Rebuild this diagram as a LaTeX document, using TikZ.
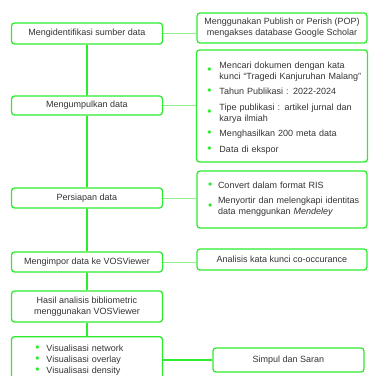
\documentclass[tikz,border=0pt]{standalone}
\usepackage{fontspec}
\setmainfont{Liberation Sans}
\usepackage{array}
\usepackage{xcolor}
\definecolor{vgreen}{RGB}{45,235,45}
\definecolor{linkgreen}{RGB}{140,240,140}
\newcommand{\gdot}{{\color{vgreen}\fontsize{12}{11}\selectfont\textbullet}}
\newcommand{\gap}{\\ \noalign{\vskip 4.5pt}}
\newcolumntype{L}[1]{>{\raggedright\arraybackslash}m{#1}}

\begin{document}
\begin{tikzpicture}[x=1pt, y=-1pt,
    stepbox/.style={draw=vgreen, line width=1.3pt, rounded corners=3pt, text=black!80,
        font=\fontsize{9}{11}\selectfont, align=center, inner sep=0pt},
    spine/.style={vgreen, line width=1.5pt},
    link/.style={linkgreen, line width=0.6pt}]
    \useasboundingbox (0,0) rectangle (369,376);
    \clip (0,0) rectangle (369,376);
    % Main steps on the left
    \node[stepbox, minimum width=151pt, minimum height=21pt] (ident) at (87,33.5) {Mengidentifikasi sumber data};
    \node[stepbox, minimum width=151pt, minimum height=19pt] (kumpul) at (87,105.5) {Mengumpulkan data};
    \node[stepbox, minimum width=151pt, minimum height=20pt] (siap) at (87,198) {Persiapan data};
    \node[stepbox, minimum width=151pt, minimum height=20pt] (impor) at (87,262) {Mengimpor data ke VOSViewer};
    \node[stepbox, minimum width=151pt, minimum height=31pt] (hasil) at (87,306.5) {Hasil analisis bibliometric\\menggunakan VOSViewer};
    \node[stepbox, anchor=north, text width=151pt, align=left, inner ysep=7pt] (visual) at (87,336) {\noindent
        \begin{tabular}{@{\hspace{24pt}}m{11pt}@{}L{110pt}@{}}
        \gdot & Visualisasi network\\
        \gdot & Visualisasi overlay\\
        \gdot & Visualisasi density\gap
        & \gap
        \end{tabular}};
    % Details on the right
    \node[stepbox, minimum width=170pt, minimum height=30pt] (pop) at (282,28) {Menggunakan Publish or Perish (POP)\\mengakses database Google Scholar};
    \node[stepbox, text width=171pt, align=left, minimum height=112pt] (cari) at (282,106) {\noindent
        \begin{tabular}{@{\hspace{11pt}}m{12pt}@{}L{146pt}@{}}
        \noalign{\vskip 4pt}
        \gdot & Mencari dokumen dengan kata\newline kunci “Tragedi Kanjuruhan Malang”\gap
        \gdot & Tahun Publikasi : 2022-2024\gap
        \gdot & Tipe publikasi : artikel jurnal dan\newline karya ilmiah\gap
        \gdot & Menghasilkan 200 meta data\gap
        \gdot & Data di ekspor
        \end{tabular}};
    \node[stepbox, text width=170pt, align=left, minimum height=57pt] (ris) at (282,199.5) {\noindent
        \begin{tabular}{@{\hspace{11pt}}m{10pt}@{}L{146pt}@{}}
        \gdot & Convert dalam format RIS\gap
        \gdot & Menyortir dan melengkapi identitas\newline data menggunkan \textit{Mendeley}
        \end{tabular}};
    \node[stepbox, minimum width=170pt, minimum height=21pt] (vos) at (282,259.5) {Analisis kata kunci co-occurance};
    \node[stepbox, minimum width=151pt, minimum height=24pt] (saran) at (288.5,360) {Simpul dan Saran};
    % Connectors
    \foreach \a/\b in {ident/kumpul, kumpul/siap, siap/impor, impor/hasil, hasil/visual}
        \draw[spine] (\a) -- (\b);
    \foreach \a/\b in {ident/pop, kumpul/cari, siap/ris, impor/vos}
        \draw[link] (\a.east) -- (\a.east -| \b.west);
    \draw[spine] (saran.west) -- (saran.west -| visual.east);
\end{tikzpicture}
\end{document}
